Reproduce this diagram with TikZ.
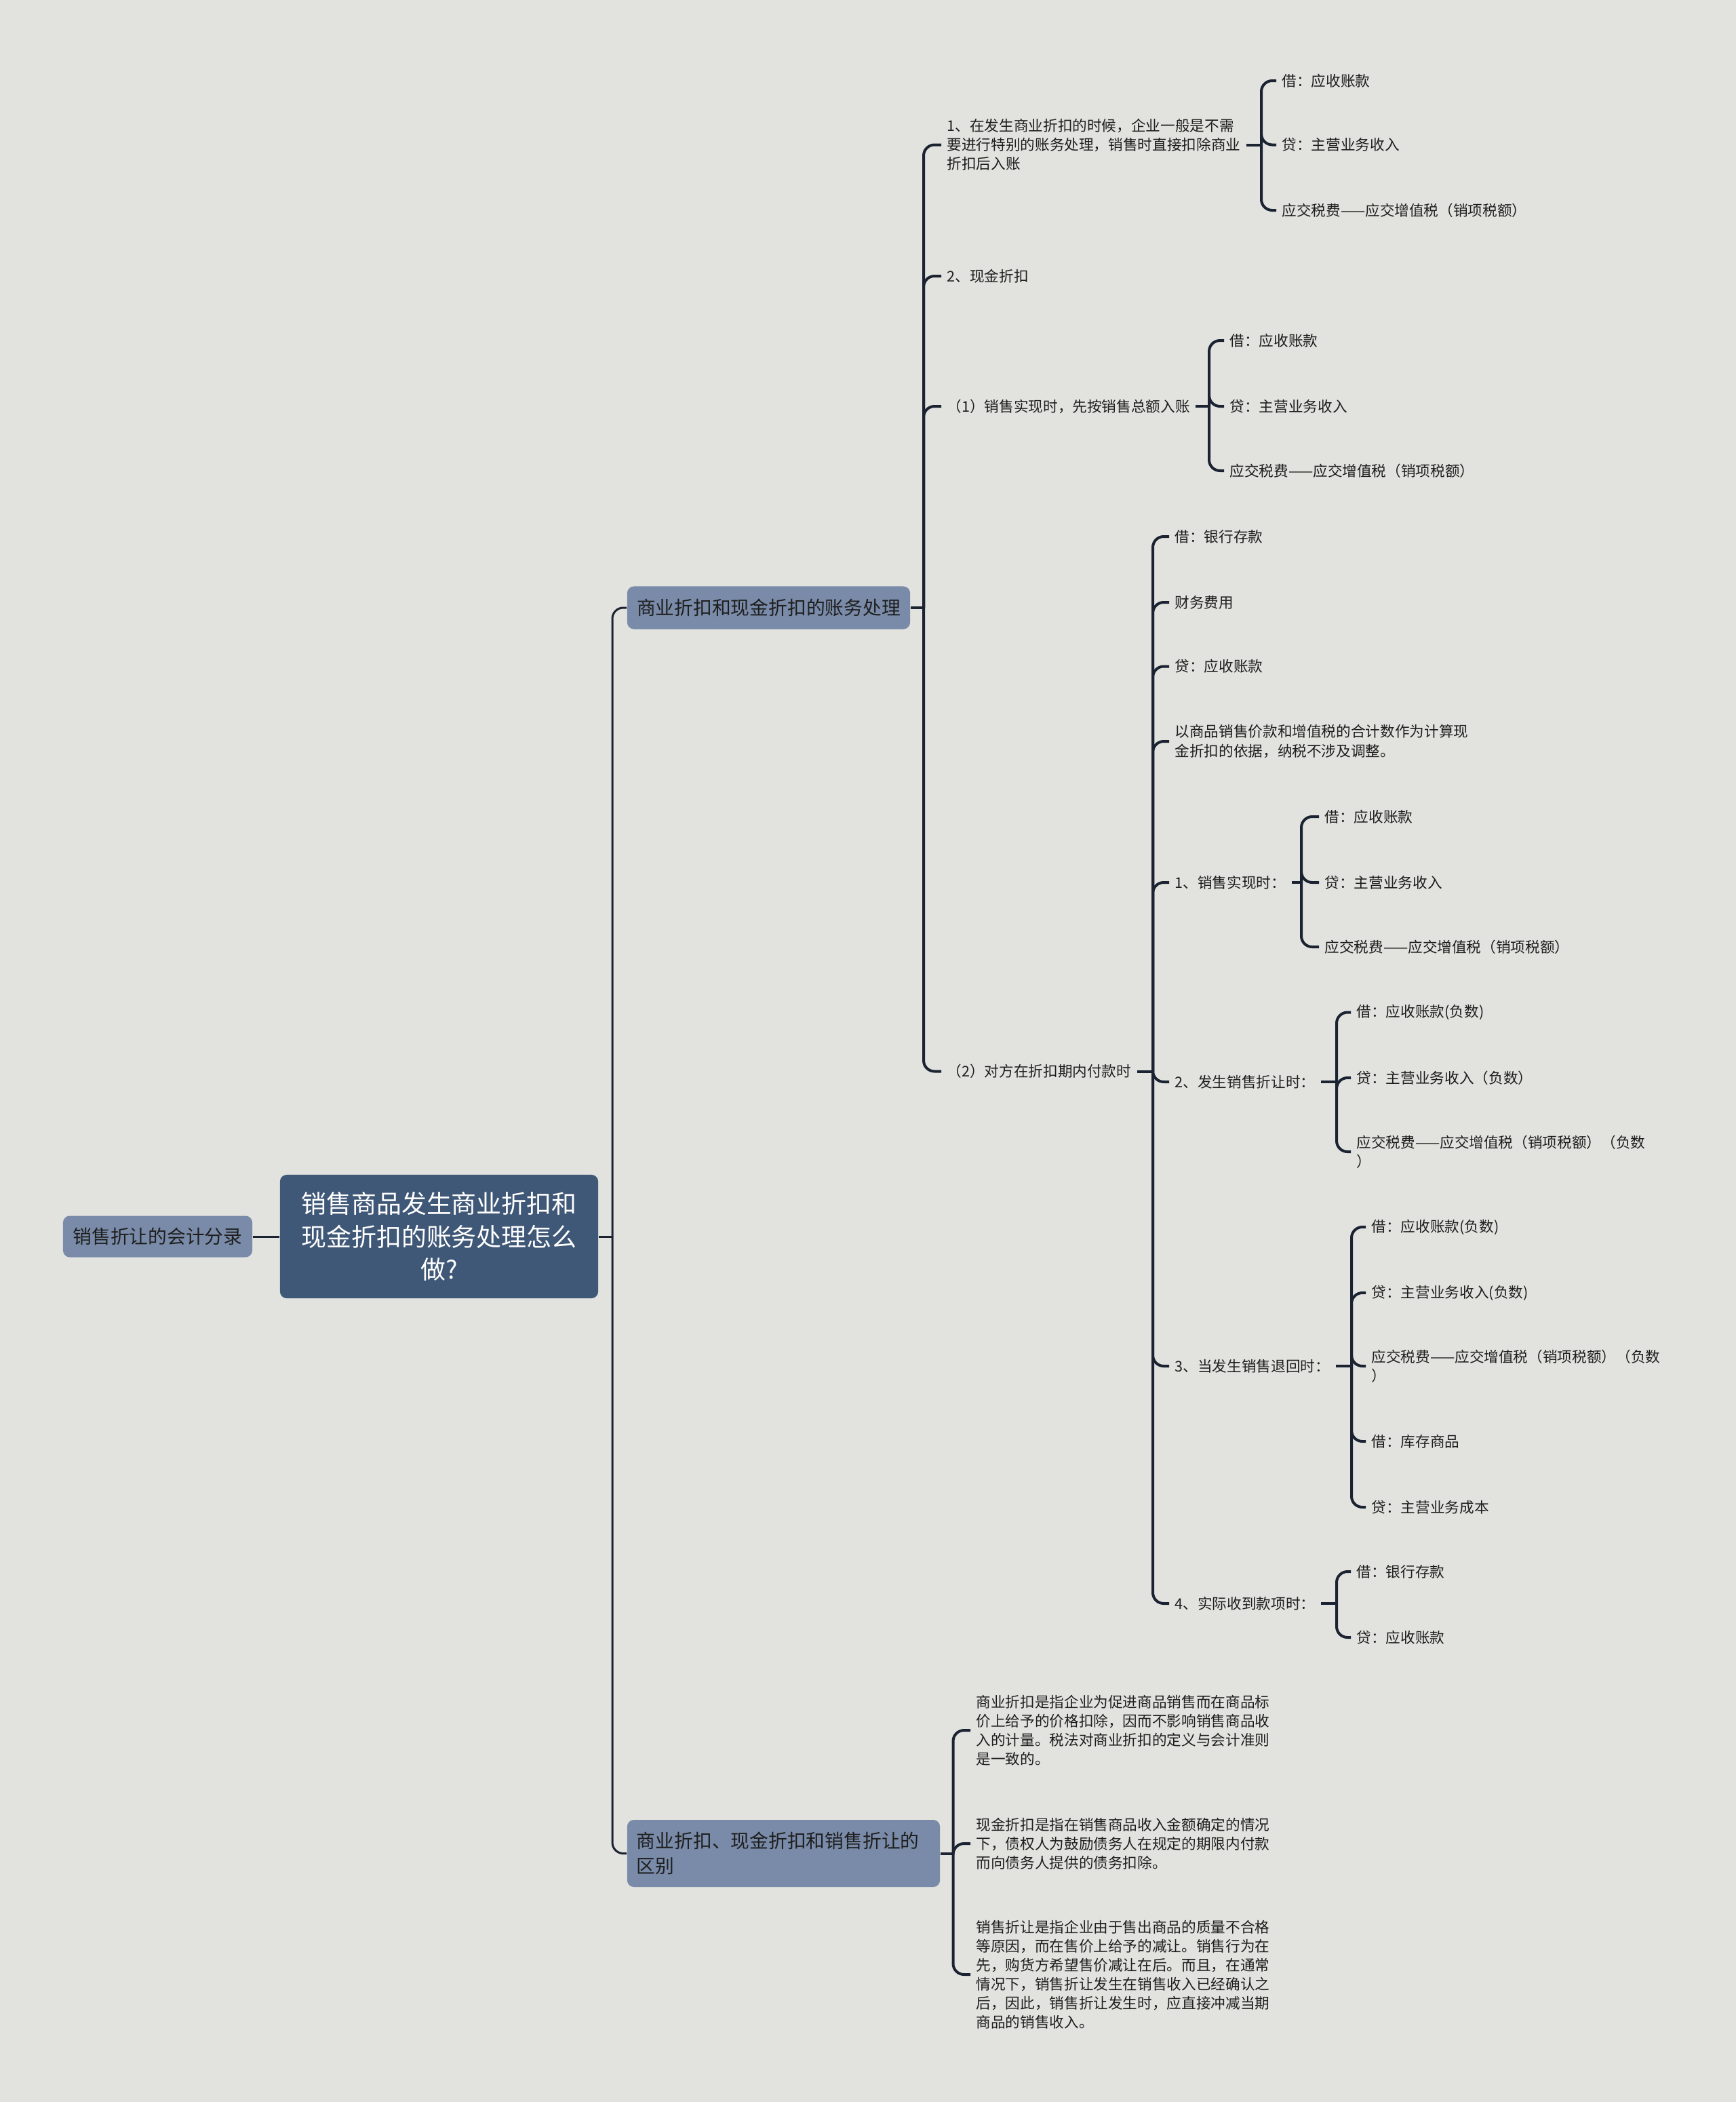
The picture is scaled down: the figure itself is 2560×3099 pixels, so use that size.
\documentclass[tikz,border=0pt]{standalone}
\usepackage{fontspec}
\setmainfont{Noto Sans CJK SC}
\definecolor{bgcol}{RGB}{226,227,222}
\definecolor{rootcol}{RGB}{64,88,119}
\definecolor{topiccol}{RGB}{121,139,168}
\definecolor{linecol}{RGB}{27,35,50}
\definecolor{txtcol}{RGB}{30,30,30}

\begin{document}
\begin{tikzpicture}[x=0.01cm,y=-0.01cm,
    link/.style={draw=linecol,line width=0.04cm,rounded corners=0.16cm},
    toplink/.style={draw=linecol,line width=0.03cm,rounded corners=0.16cm},
    rootbox/.style={fill=rootcol,text=white,rounded corners=0.1cm,minimum width=4.69cm,
        minimum height=1.82cm,align=center,inner sep=0pt,font=\fontsize{10.5}{13.8}\selectfont},
    topicbox/.style={fill=topiccol,text=txtcol,rounded corners=0.1cm,inner xsep=0.14cm,
        font=\fontsize{7.9}{10.7}\selectfont},
    leaf/.style={anchor=west,text=txtcol,align=left,inner xsep=0.08cm,inner ysep=0.02cm,
        font=\fontsize{6.15}{7.97}\selectfont}]

        % page
        \fill[bgcol] (0,0) rectangle (2560,3099);
        \useasboundingbox (0,0) rectangle (2560,3099);

        % centre and first level
        \node[rootbox] (root) at (647.5,1823) {销售商品发生商业折扣和\\现金折扣的账务处理怎么\\做?};
        \node[topicbox,minimum width=2.79cm,minimum height=0.61cm] (left) at (232.5,1823) {销售折让的会计分录};
        \node[topicbox,minimum width=4.17cm,minimum height=0.63cm] (A) at (1133.5,896) {商业折扣和现金折扣的账务处理};
        \node[topicbox,minimum height=0.99cm,text width=4.33cm,align=left] (B) at (1155.5,2732.5) {商业折扣、现金折扣和销售折让的\\区别};

        \draw[toplink] (left.east) -- (root.west);
        \coordinate (rootT) at (903,1823);
        \draw[toplink] (root.east) -- (rootT);
        \draw[toplink] (rootT) |- (A.west);
        \draw[toplink] (rootT) |- (B.west);

        % accounting branch
        \coordinate (AT) at (1362,896);
        \draw[link] (A.east) -- (AT);
        \node[leaf] (a1) at (1388,213.5) {1、在发生商业折扣的时候，企业一般是不需\\要进行特别的账务处理，销售时直接扣除商业\\折扣后入账};
        \node[leaf] (a2) at (1388,407) {2、现金折扣};
        \node[leaf] (a3) at (1388,599) {（1）销售实现时，先按销售总额入账};
        \node[leaf] (a4) at (1388,1579.5) {（2）对方在折扣期内付款时};
        \foreach \c in {a1,a2,a3,a4} {
            \draw[link] (AT) |- (\c.west);
        }

        \coordinate (a1T) at (1860,213.5);
        \draw[link] (a1.east) -- (a1T);
        \foreach \i/\y/\t in {1/119/借：应收账款,2/213.5/贷：主营业务收入,3/310/应交税费——应交增值税（销项税额）} {
            \node[leaf] (a1-\i) at (1882,\y) {\t};
            \draw[link] (a1T) |- (a1-\i.west);
        }

        \coordinate (a3T) at (1783,599);
        \draw[link] (a3.east) -- (a3T);
        \foreach \i/\y/\t in {1/502/借：应收账款,2/599/贷：主营业务收入,3/694/应交税费——应交增值税（销项税额）} {
            \node[leaf] (a3-\i) at (1805,\y) {\t};
            \draw[link] (a3T) |- (a3-\i.west);
        }

        % payment within the discount period
        \coordinate (a4T) at (1700,1579.5);
        \draw[link] (a4.east) -- (a4T);
        \node[leaf] (b1) at (1724,791) {借：银行存款};
        \node[leaf] (b2) at (1724,888) {财务费用};
        \node[leaf] (b3) at (1724,982.5) {贷：应收账款};
        \node[leaf] (b4) at (1724,1093) {以商品销售价款和增值税的合计数作为计算现\\金折扣的依据，纳税不涉及调整。};
        \node[leaf] (b5) at (1724,1301) {1、销售实现时：};
        \node[leaf] (b6) at (1724,1595) {2、发生销售折让时：};
        \node[leaf] (b7) at (1724,2014) {3、当发生销售退回时：};
        \node[leaf] (b8) at (1724,2364) {4、实际收到款项时：};
        \foreach \c in {b1,b2,b3,b4,b5,b6,b7,b8} {
            \draw[link] (a4T) |- (\c.west);
        }

        \coordinate (b5T) at (1919,1301);
        \draw[link] (b5.east) -- (b5T);
        \foreach \i/\y/\t in {1/1204/借：应收账款,2/1301/贷：主营业务收入,3/1396/应交税费——应交增值税（销项税额）} {
            \node[leaf] (b5-\i) at (1945,\y) {\t};
            \draw[link] (b5T) |- (b5-\i.west);
        }

        \coordinate (b6T) at (1971,1595);
        \draw[link] (b6.east) -- (b6T);
        \node[leaf] (b6-1) at (1992,1492.5) {借：应收账款(负数)};
        \node[leaf] (b6-2) at (1992,1589) {贷：主营业务收入（负数）};
        \node[leaf] (b6-3) at (1992,1698) {应交税费——应交增值税（销项税额）（负数\\）};
        \foreach \i in {1,2,3} {
            \draw[link] (b6T) |- (b6-\i.west);
        }

        \coordinate (b7T) at (1993,2014);
        \draw[link] (b7.east) -- (b7T);
        \node[leaf] (b7-1) at (2014,1809) {借：应收账款(负数)};
        \node[leaf] (b7-2) at (2014,1906) {贷：主营业务收入(负数)};
        \node[leaf] (b7-3) at (2014,2014) {应交税费——应交增值税（销项税额）（负数\\）};
        \node[leaf] (b7-4) at (2014,2125) {借：库存商品};
        \node[leaf] (b7-5) at (2014,2222) {贷：主营业务成本};
        \foreach \i in {1,...,5} {
            \draw[link] (b7T) |- (b7-\i.west);
        }

        \coordinate (b8T) at (1971,2364);
        \draw[link] (b8.east) -- (b8T);
        \foreach \i/\y/\t in {1/2317/借：银行存款,2/2414/贷：应收账款} {
            \node[leaf] (b8-\i) at (1992,\y) {\t};
            \draw[link] (b8T) |- (b8-\i.west);
        }

        % difference branch
        \coordinate (BT) at (1405.5,2732.5);
        \draw[link] (B.east) -- (BT);
        \node[leaf] (p1) at (1431,2551) {商业折扣是指企业为促进商品销售而在商品标\\价上给予的价格扣除，因而不影响销售商品收\\入的计量。税法对商业折扣的定义与会计准则\\是一致的。};
        \node[leaf] (p2) at (1431,2718) {现金折扣是指在销售商品收入金额确定的情况\\下，债权人为鼓励债务人在规定的期限内付款\\而向债务人提供的债务扣除。};
        \node[leaf] (p3) at (1431,2911) {销售折让是指企业由于售出商品的质量不合格\\等原因，而在售价上给予的减让。销售行为在\\先，购货方希望售价减让在后。而且，在通常\\情况下，销售折让发生在销售收入已经确认之\\后，因此，销售折让发生时，应直接冲减当期\\商品的销售收入。};
        \foreach \c in {p1,p2,p3} {
            \draw[link] (BT) |- (\c.west);
        }
    \end{tikzpicture}
\end{document}
